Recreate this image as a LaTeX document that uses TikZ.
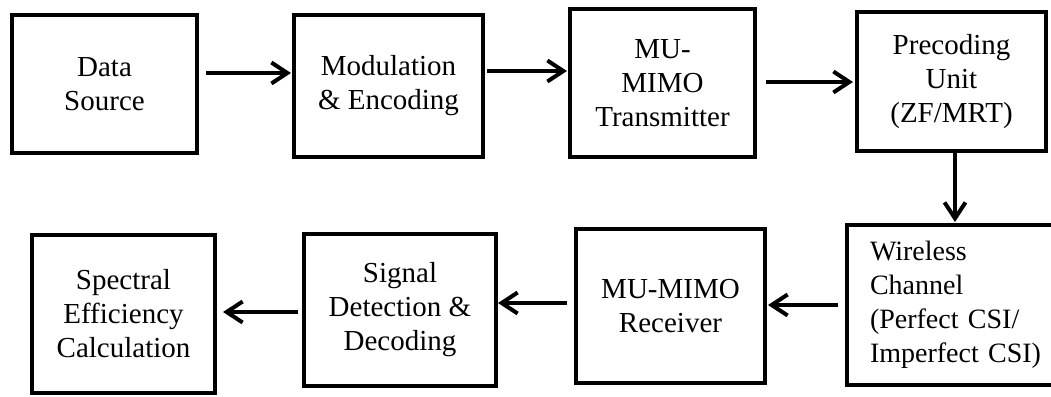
\documentclass[tikz,border=0pt]{standalone}
\usepackage{fontspec}
\setmainfont{Liberation Serif}
\usetikzlibrary{arrows.meta}

\begin{document}
\begin{tikzpicture}[x=1pt,y=-1pt,
  block/.style={draw=black, line width=4pt, fill=white, inner sep=0pt,
    align=center, font=\fontsize{29}{34}\selectfont},
  arr/.style={line width=4pt, -{Straight Barb[length=16pt,width=21pt]}}]

  \useasboundingbox[fill=white] (0,0) rectangle (1051,396);

  % top row, left to right
  \node[block, minimum width=185pt, minimum height=138pt] (src) at (104.5,84) {Data\\Source};
  \node[block, minimum width=189pt, minimum height=142pt] (mod) at (388.5,86) {Modulation\\\& Encoding};
  \node[block, minimum width=185pt, minimum height=148pt] (tx)  at (662.5,83) {MU-\\MIMO\\Transmitter};
  \node[block, minimum width=189pt, minimum height=139pt] (pre) at (951.5,81.5) {Precoding\\Unit\\(ZF/MRT)};

  % bottom row, right to left; the channel box runs past the right margin
  \node[block, anchor=west, minimum height=160pt, align=left,
        text width=190pt, inner xsep=23pt, font=\fontsize{28}{34}\selectfont]
        (chan) at (845,305) {Wireless\\Channel\\(Perfect CSI/\\Imperfect CSI)};
  \node[block, minimum width=189pt, minimum height=154pt] (rx)  at (670.5,306) {MU-MIMO\\Receiver};
  \node[block, minimum width=192pt, minimum height=152pt] (det) at (400,310) {Signal\\Detection \&\\Decoding};
  \node[block, minimum width=183pt, minimum height=158pt] (se)  at (123.5,314) {Spectral\\Efficiency\\Calculation};

  % signal flow
  \draw[arr, shorten <=7pt, shorten >=1pt] (src.east |- 0,73) -- (mod.west |- 0,73);
  \draw[arr, shorten <=2pt, shorten >=1pt] (mod.east |- 0,71) -- (tx.west |- 0,71);
  \draw[arr, shorten <=9pt, shorten >=2pt] (tx.east |- 0,82) -- (pre.west |- 0,82);
  \draw[arr, shorten >=1pt] (pre.south -| 955,0) -- (chan.north -| 955,0);
  \draw[arr, shorten <=7pt, shorten >=1pt] (chan.west |- 0,305) -- (rx.east |- 0,305);
  \draw[arr, shorten <=7pt] (rx.west |- 0,303) -- (det.east |- 0,303);
  \draw[arr, shorten <=4pt, shorten >=6pt] (det.west |- 0,312) -- (se.east |- 0,312);
\end{tikzpicture}
\end{document}
